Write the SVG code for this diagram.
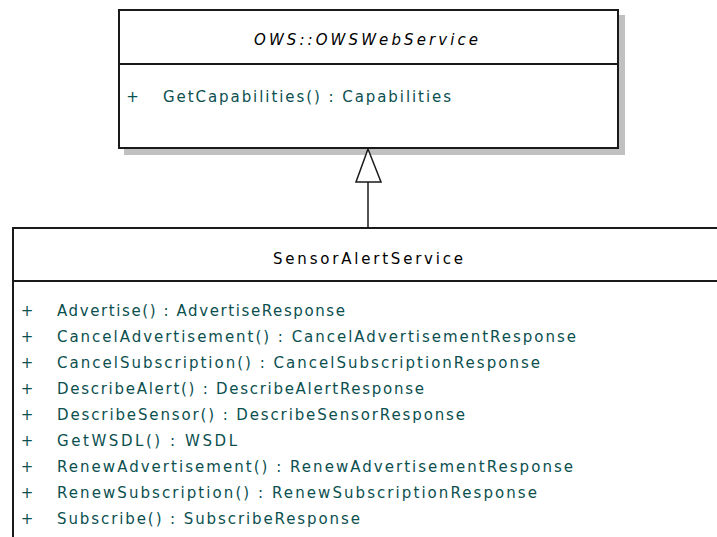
<svg xmlns="http://www.w3.org/2000/svg" width="717" height="537" viewBox="0 0 717 537">
<defs>
<style>
.box{fill:#fff;stroke:#1a1a1a;stroke-width:2}
.sep{stroke:#1a1a1a;stroke-width:2}
.shadow{fill:#c0c0c0}
.t{font-family:"DejaVu Sans","Liberation Sans",sans-serif;font-size:15px}
.name{fill:#000}
.it{font-style:italic}
.m{fill:#0b4f4f}
.edge{fill:none;stroke:#1a1a1a;stroke-width:1.5}
.head{fill:#fff;stroke:#1a1a1a;stroke-width:1.5}
</style>
</defs>
<rect width="717" height="537" fill="#fff"/>
<g id="OWSWebService">
<rect class="shadow" x="124" y="15" width="501" height="140"/>
<rect class="box" x="119" y="10" width="499" height="138"/>
<line class="sep" x1="119" y1="64" x2="618" y2="64"/>
<text class="t name it" x="254" y="45" textLength="224" lengthAdjust="spacing">OWS::OWSWebService</text>
<text class="t m" x="132.5" y="101.5" text-anchor="middle">+</text>
<text class="t m" x="163" y="101.5" textLength="288" lengthAdjust="spacing">GetCapabilities() : Capabilities</text>
</g>
<g id="SensorAlertService">
<rect class="box" x="13" y="228" width="720" height="330"/>
<line class="sep" x1="13" y1="281" x2="717" y2="281"/>
<text class="t name" x="273" y="264" textLength="190" lengthAdjust="spacing">SensorAlertService</text>
<g class="t m" text-anchor="middle">
<text x="27" y="315.5">+</text>
<text x="27" y="341.5">+</text>
<text x="27" y="367.5">+</text>
<text x="27" y="393.5">+</text>
<text x="27" y="419.5">+</text>
<text x="27" y="445.5">+</text>
<text x="27" y="471.5">+</text>
<text x="27" y="497.5">+</text>
<text x="27" y="523.5">+</text>
</g>
<g class="t m">
<text x="57" y="315.5" textLength="288" lengthAdjust="spacing">Advertise() : AdvertiseResponse</text>
<text x="57" y="341.5" textLength="519" lengthAdjust="spacing">CancelAdvertisement() : CancelAdvertisementResponse</text>
<text x="57" y="367.5" textLength="483" lengthAdjust="spacing">CancelSubscription() : CancelSubscriptionResponse</text>
<text x="57" y="393.5" textLength="367" lengthAdjust="spacing">DescribeAlert() : DescribeAlertResponse</text>
<text x="57" y="419.5" textLength="408" lengthAdjust="spacing">DescribeSensor() : DescribeSensorResponse</text>
<text x="57" y="445.5" textLength="180" lengthAdjust="spacing">GetWSDL() : WSDL</text>
<text x="57" y="471.5" textLength="516" lengthAdjust="spacing">RenewAdvertisement() : RenewAdvertisementResponse</text>
<text x="57" y="497.5" textLength="480" lengthAdjust="spacing">RenewSubscription() : RenewSubscriptionResponse</text>
<text x="57" y="523.5" textLength="303" lengthAdjust="spacing">Subscribe() : SubscribeResponse</text>
</g>
</g>
<g id="connectors">
<line class="edge" x1="368" y1="182" x2="368" y2="228"/>
<polygon class="head" points="368,149 356,182 381,182"/>
</g>
</svg>
